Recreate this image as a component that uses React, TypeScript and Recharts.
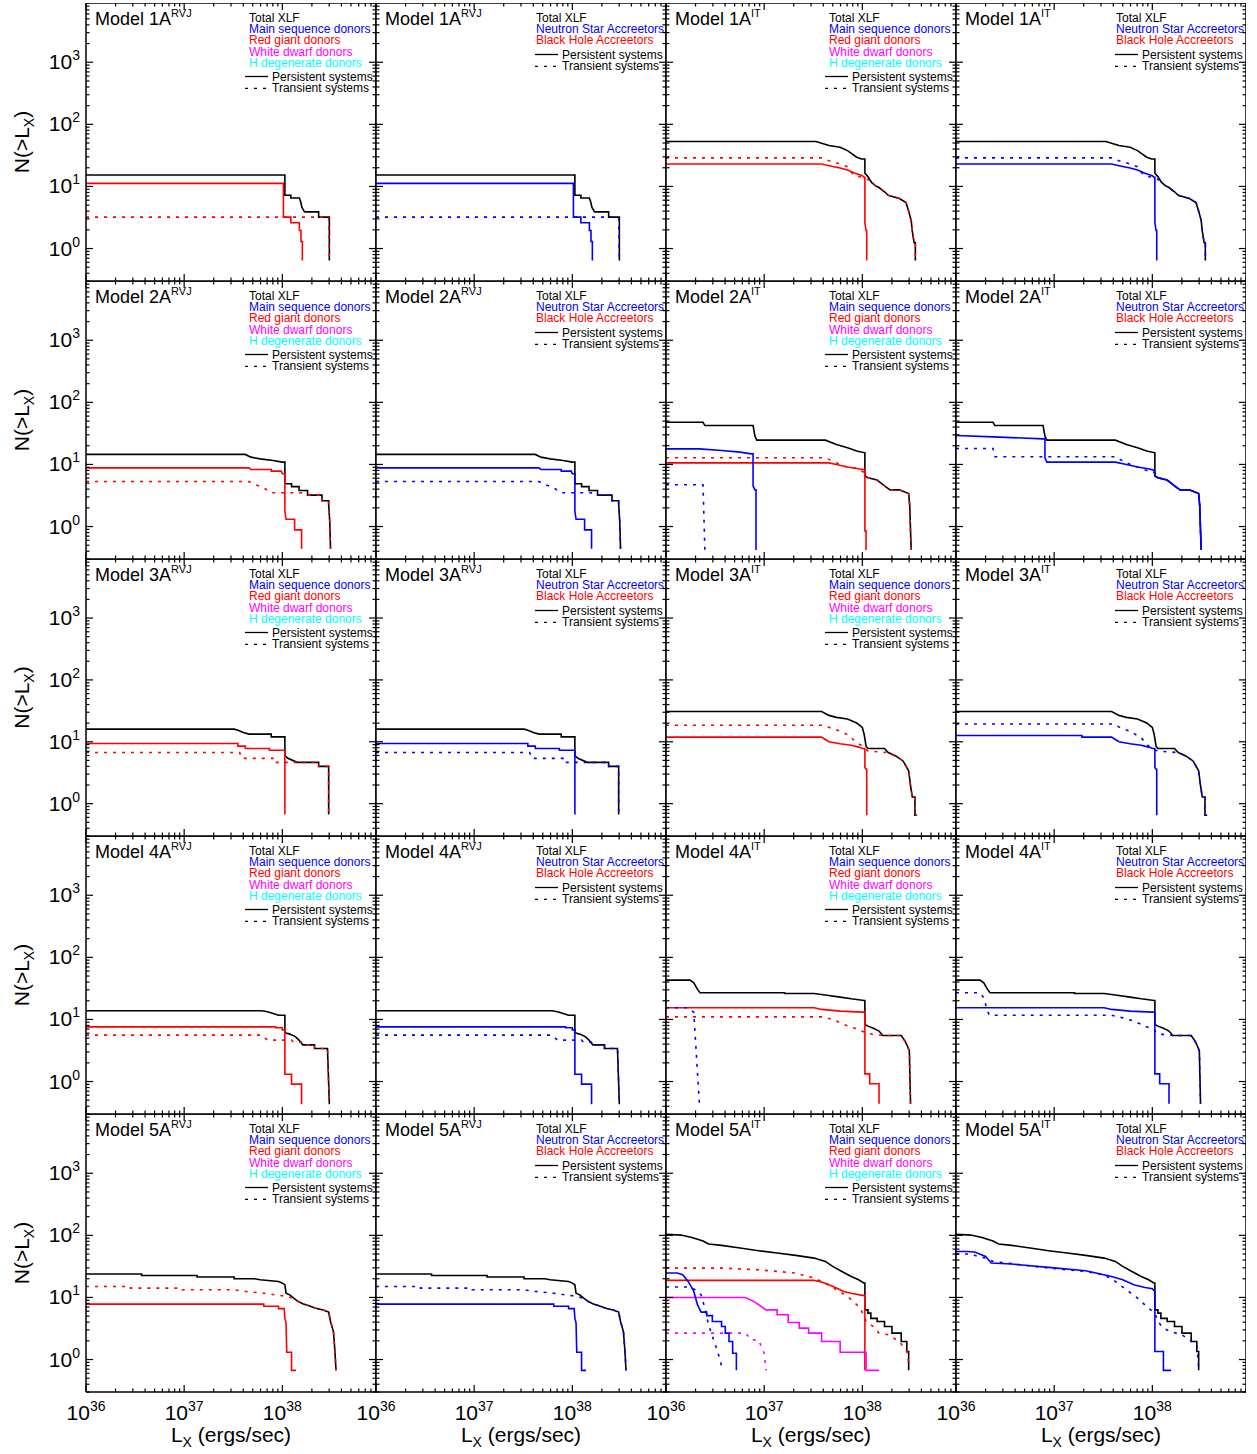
import React from 'react';
import { LineChart, Line, XAxis, YAxis, ReferenceLine } from 'recharts';

const FONT = '"Liberation Sans", Arial, Helvetica, sans-serif';

// ---------- tick labels / legend texts ----------
const models = ['1A', '2A', '3A', '4A', '5A'];
const kinds = ['RVJ', 'RVJ', 'IT', 'IT'];
const donorLegend = ['Total XLF', 'Main sequence donors', 'Red giant donors', 'White dwarf donors', 'H degenerate donors'];
const accretorLegend = ['Total XLF', 'Neutron Star Accreetors', 'Black Hole Accreetors'];
const styleLegend = ['Persistent systems', 'Transient systems'];
const xLabelExps = [36, 37, 38];
const yLabelExps = [0, 1, 2, 3];

// ---------- data: [log10 L_X, N(>L_X)] ----------
// Model 1A RVJ
const tot1r = [[36, 15.3], [38.026, 15.3], [38.026, 7.2], [38.087, 7.2], [38.087, 6.5], [38.174, 6.5], [38.189, 5.5], [38.2, 4.6], [38.226, 3.9], [38.37, 3.9], [38.37, 3.2], [38.479, 3.2], [38.479, 0.64]];
const rg1rP = [[36, 11.2], [38.011, 11.2], [38.011, 3.2], [38.087, 3.2], [38.087, 2.6], [38.174, 2.6], [38.174, 1.95], [38.19, 1.95], [38.19, 1.3], [38.204, 1.3], [38.204, 0.64]];
const rg1rT = [[36, 3.2], [38.472, 3.2], [38.479, 0.64]];
// Model 1A IT
const tot1i = [[36, 53], [37.528, 53], [37.585, 49.8], [37.66, 45.6], [37.774, 42.9], [37.849, 37.8], [37.906, 32.6], [37.943, 29.5], [37.992, 27.7], [38.026, 27.7], [38.026, 16.3], [38.057, 14.4], [38.094, 11.6], [38.132, 10.3], [38.17, 9.6], [38.226, 8.2], [38.264, 7.2], [38.377, 6.4], [38.445, 5.5], [38.472, 4.0], [38.498, 2.8], [38.509, 1.9], [38.528, 1.24], [38.54, 1.24], [38.54, 0.64]];
const rg1iP = [[36, 23], [37.585, 23], [37.66, 21.6], [37.774, 19.8], [37.849, 18.4], [37.925, 16.3], [38.0, 14.9], [38.019, 14], [38.026, 14], [38.026, 2.6], [38.038, 1.95], [38.045, 1.95], [38.045, 0.64]];
const rg1iT = [[36, 28.8], [37.585, 28.8], [37.66, 26], [37.774, 23], [37.849, 20.8], [37.887, 16.9], [37.925, 14.9], [38.0, 14], [38.057, 13], [38.094, 11.6], [38.132, 10.3], [38.17, 9.6], [38.226, 8.2], [38.264, 7.2], [38.377, 6.4], [38.445, 5.5], [38.472, 4.0], [38.498, 2.8], [38.509, 1.9], [38.528, 1.24], [38.54, 1.24], [38.54, 0.64]];
// Model 2A RVJ
const tot2r = [[36, 14.5], [37.623, 14.5], [37.679, 13.1], [37.774, 12.3], [37.906, 11.6], [38.0, 10.9], [38.026, 10.9], [38.026, 4.9], [38.094, 4.9], [38.094, 4.4], [38.17, 4.4], [38.17, 3.8], [38.257, 3.8], [38.257, 3.2], [38.404, 3.2], [38.404, 2.6], [38.472, 2.6], [38.472, 2.3], [38.483, 1.2], [38.491, 0.44]];
const rg2rP = [[36, 8.8], [37.66, 8.8], [37.679, 8.3], [37.887, 8.3], [37.887, 7.8], [37.989, 7.8], [38.0, 7.1], [38.026, 7.1], [38.026, 1.76], [38.038, 1.31], [38.125, 1.31], [38.125, 0.885], [38.196, 0.885], [38.196, 0.44]];
const rg2rT = [[36, 5.3], [37.66, 5.3], [37.698, 4.9], [37.811, 4.2], [37.887, 3.5], [38.189, 3.5], [38.264, 3.2], [38.404, 3.2], [38.404, 2.6], [38.472, 2.6], [38.472, 2.3], [38.483, 1.2], [38.491, 0.44]];
// Model 2A IT
const tot2i = [[36, 47.8], [36.377, 47.8], [36.396, 42.3], [36.887, 42.3], [36.906, 28.5], [36.925, 24.6], [37.623, 24.6], [37.736, 20.9], [37.849, 18.5], [37.943, 16.4], [38.026, 15.4], [38.026, 6.5], [38.057, 6.1], [38.151, 5.6], [38.226, 4.5], [38.283, 3.9], [38.377, 3.9], [38.472, 3.4], [38.483, 2.15], [38.491, 0.85], [38.498, 0.42]];
const ms2iP = [[36, 17.8], [36.34, 17.8], [36.566, 16.8], [36.755, 15.8], [36.868, 14.8], [36.887, 14.8], [36.887, 4.5], [36.906, 3.9], [36.917, 3.9], [36.917, 0.42]];
const ms2iT = [[36, 4.7], [36.377, 4.7], [36.396, 0.42]];
const rg2iP = [[36, 10.6], [37.66, 10.6], [37.736, 10], [37.849, 9.1], [37.943, 8.6], [38.0, 8.3], [38.026, 8.3], [38.026, 0.85], [38.038, 0.85], [38.038, 0.42]];
const rg2iT = [[36, 12.8], [37.623, 12.8], [37.698, 11.3], [37.811, 9.4], [37.943, 8.6], [38.026, 7.35], [38.057, 6.1], [38.151, 5.6], [38.226, 4.5], [38.283, 3.9], [38.377, 3.9], [38.472, 3.4], [38.483, 2.15], [38.491, 0.85], [38.498, 0.42]];
const ns2iP = [[36, 29.2], [36.377, 27.8], [36.887, 25.8], [36.906, 25.8], [36.906, 12.8], [36.925, 10.9], [37.623, 10.9], [37.736, 10], [37.849, 9.1], [37.943, 8.6], [38.019, 8.1], [38.026, 6.5], [38.057, 6.1], [38.151, 5.6], [38.226, 4.5], [38.283, 3.9], [38.377, 3.9], [38.472, 3.4], [38.483, 2.15], [38.491, 0.85], [38.498, 0.42]];
const ns2iT = [[36, 18.1], [36.377, 18.1], [36.396, 13.3], [37.623, 13.3], [37.736, 10.6], [37.849, 9.06], [37.962, 7.8], [38.026, 7.35], [38.057, 6.1], [38.151, 5.6], [38.226, 4.5], [38.283, 3.9], [38.377, 3.9], [38.472, 3.4], [38.483, 2.15], [38.491, 0.85], [38.498, 0.42]];
// Model 3A RVJ
const tot3r = [[36, 16], [37.509, 16], [37.547, 15.4], [37.604, 14.1], [37.66, 13.3], [37.887, 13.3], [37.887, 12], [38.026, 12], [38.026, 6.0], [38.057, 5.4], [38.151, 4.65], [38.37, 4.65], [38.37, 4.0], [38.472, 4.0], [38.472, 0.67]];
const rg3rP = [[36, 9.4], [37.547, 9.4], [37.547, 8.5], [37.623, 8.5], [37.623, 7.8], [37.868, 7.8], [37.868, 7.3], [38.026, 7.3], [38.026, 0.67]];
const rg3rT = [[36, 6.7], [37.566, 6.7], [37.585, 5.4], [37.925, 5.4], [37.925, 4.65], [38.37, 4.65], [38.37, 4.0], [38.472, 4.0], [38.472, 0.67]];
// Model 3A IT
const tot3i = [[36, 30.8], [37.585, 30.8], [37.66, 26.7], [37.736, 24.8], [37.849, 23.3], [37.943, 20.1], [38.0, 17.1], [38.019, 13.1], [38.038, 8.5], [38.057, 7.8], [38.226, 7.8], [38.264, 6.7], [38.34, 5.9], [38.415, 4.9], [38.472, 3.4], [38.491, 1.96], [38.509, 1.28], [38.536, 1.28], [38.536, 0.65], [38.558, 0.65]];
const rg3iP = [[36, 11.9], [37.585, 11.9], [37.623, 10.9], [37.66, 10], [37.774, 9.3], [37.887, 8.8], [37.962, 8.2], [38.0, 7.8], [38.026, 7.8], [38.026, 3.85], [38.038, 3.6], [38.045, 3.6], [38.045, 0.65]];
const rg3iT = [[36, 18.5], [37.604, 18.5], [37.679, 16.7], [37.774, 14.8], [37.849, 13.1], [37.925, 10.3], [38.0, 8.5], [38.057, 7.1], [38.151, 6.9], [38.264, 6.7], [38.34, 5.9], [38.415, 4.9], [38.472, 3.4], [38.491, 1.96], [38.509, 1.28], [38.536, 1.28], [38.536, 0.65], [38.558, 0.65]];
const ns3iP = [[36, 12.6], [37.283, 12.6], [37.283, 11.9], [37.585, 11.9], [37.623, 10.9], [37.66, 10], [37.774, 9.3], [37.887, 8.8], [37.962, 8.2], [38.0, 7.8], [38.026, 7.8], [38.026, 3.85], [38.038, 3.6], [38.045, 3.6], [38.045, 0.65]];
const ns3iT = [[36, 19.4], [37.604, 19.4], [37.679, 16.7], [37.774, 14.8], [37.887, 11.6], [37.943, 9.1], [38.0, 7.55], [38.057, 7.1], [38.151, 6.9], [38.264, 6.7], [38.34, 5.9], [38.415, 4.9], [38.472, 3.4], [38.491, 1.96], [38.509, 1.28], [38.536, 1.28], [38.536, 0.65], [38.558, 0.65]];
// Model 4A RVJ
const tot4r = [[36, 13.8], [37.792, 13.8], [37.849, 13.3], [37.906, 12.5], [37.962, 11.7], [38.026, 11.7], [38.026, 6.1], [38.075, 5.8], [38.132, 5.3], [38.17, 4.65], [38.208, 3.9], [38.328, 3.9], [38.328, 3.4], [38.46, 3.4], [38.479, 0.43]];
const rg4rP = [[36, 7.6], [37.932, 7.6], [37.932, 7.35], [38.0, 7.35], [38.0, 6.8], [38.026, 6.8], [38.026, 1.31], [38.094, 1.31], [38.094, 0.91], [38.196, 0.91], [38.196, 0.43]];
const rg4rT = [[36, 5.6], [37.792, 5.6], [37.849, 4.65], [38.094, 4.65], [38.113, 4.3], [38.196, 4.3], [38.208, 3.9], [38.328, 3.9], [38.328, 3.4], [38.46, 3.4], [38.479, 0.43]];
// Model 4A IT
const tot4i = [[36, 43], [36.245, 43], [36.283, 39], [36.321, 30.5], [36.347, 26.9], [37.208, 26.9], [37.208, 26.2], [37.509, 26.2], [37.623, 24.7], [37.774, 22.9], [37.887, 21.5], [38.019, 20.2], [38.026, 20.2], [38.026, 8.3], [38.057, 7.8], [38.113, 7.2], [38.17, 6.5], [38.208, 5.5], [38.396, 5.5], [38.434, 4.5], [38.46, 3.7], [38.479, 3.1], [38.491, 0.44]];
const rg4iP = [[36, 15.4], [37.509, 15.4], [37.585, 14.5], [37.774, 13.6], [38.0, 13.1], [38.026, 13.1], [38.026, 1.33], [38.075, 1.33], [38.075, 0.92], [38.17, 0.92], [38.17, 0.44]];
const rg4iT = [[36, 11], [37.585, 11], [37.698, 10], [37.811, 8.3], [37.925, 7.2], [38.038, 6.1], [38.113, 5.7], [38.226, 5.5], [38.396, 5.5], [38.434, 4.5], [38.46, 3.7], [38.479, 3.1], [38.491, 0.44]];
const ms4iT = [[36, 15.4], [36.226, 15.4], [36.283, 13], [36.34, 0.44]];
const ns4iP = [[36, 15.4], [37.509, 15.4], [37.585, 14.5], [37.774, 13.6], [38.0, 13.1], [38.026, 13.1], [38.026, 1.33], [38.075, 1.33], [38.075, 0.92], [38.17, 0.92], [38.17, 0.44]];
const ns4iT = [[36, 26.9], [36.245, 26.9], [36.283, 22.3], [36.321, 13.6], [36.34, 11.7], [37.585, 11.7], [37.698, 10.6], [37.811, 9.4], [37.925, 7.8], [38.019, 6.9], [38.038, 6.1], [38.113, 5.7], [38.226, 5.5], [38.396, 5.5], [38.434, 4.5], [38.46, 3.7], [38.479, 3.1], [38.491, 0.44]];
// Model 5A RVJ
const tot5r = [[36, 23.8], [36.566, 23.8], [36.566, 22.6], [37.132, 22.6], [37.132, 21.3], [37.509, 21.3], [37.509, 20], [37.717, 20], [37.774, 19.3], [37.962, 18.1], [38.0, 17], [38.026, 16], [38.038, 11.7], [38.075, 11], [38.113, 9.8], [38.151, 8.8], [38.208, 7.9], [38.264, 7.4], [38.34, 6.7], [38.415, 6.3], [38.472, 5.8], [38.491, 4.1], [38.521, 2.8], [38.536, 1.35], [38.547, 0.67]];
const rg5rP = [[36, 7.8], [37.811, 7.8], [37.811, 7.2], [37.962, 7.2], [37.962, 6.6], [38.019, 6.6], [38.026, 4.6], [38.038, 3.9], [38.045, 1.31], [38.094, 1.31], [38.094, 0.67], [38.14, 0.67]];
const rg5rT = [[36, 15], [36.453, 15], [36.453, 14.1], [36.981, 14.1], [36.981, 13.3], [37.509, 13.3], [37.623, 12.5], [37.811, 11.7], [37.962, 10.8], [38.057, 10.4], [38.113, 9.6], [38.151, 8.8], [38.208, 7.9], [38.264, 7.4], [38.34, 6.7], [38.415, 6.3], [38.472, 5.8], [38.491, 4.1], [38.521, 2.8], [38.536, 1.35], [38.547, 0.67]];
// Model 5A IT
const tot5i = [[36, 104], [36.151, 101], [36.264, 92], [36.377, 81], [36.434, 72.5], [36.566, 69], [36.755, 62.5], [36.943, 56.6], [37.132, 51.9], [37.321, 47.6], [37.509, 43], [37.623, 38], [37.698, 31.6], [37.792, 26.2], [37.887, 21.8], [37.962, 19.3], [38.019, 17], [38.026, 17], [38.026, 6.3], [38.057, 6.3], [38.057, 5.6], [38.087, 5.6], [38.087, 4.6], [38.151, 4.6], [38.151, 4.1], [38.226, 4.1], [38.226, 3.4], [38.302, 3.4], [38.302, 2.66], [38.396, 2.66], [38.396, 1.95], [38.453, 1.95], [38.453, 1.35], [38.472, 1.35], [38.472, 0.67]];
const rg5iP = [[36, 18.8], [37.509, 18.8], [37.585, 17.7], [37.66, 16], [37.736, 14.2], [37.811, 12.5], [37.887, 11.7], [38.0, 10.8], [38.026, 10.8], [38.026, 0.67]];
const rg5iT = [[36, 29.7], [36.566, 29.7], [36.943, 27.9], [37.321, 24.7], [37.509, 20.5], [37.623, 17], [37.736, 13.3], [37.849, 10.4], [37.925, 8.1], [37.981, 6.7], [38.038, 4.1], [38.113, 3.4], [38.17, 2.66], [38.264, 2.5], [38.377, 1.95], [38.453, 1.35], [38.472, 0.9]];
const ms5iP = [[36, 24.7], [36.113, 24.7], [36.17, 23.2], [36.226, 18.1], [36.283, 12.5], [36.321, 7.6], [36.358, 5.8], [36.415, 5.8], [36.415, 5.1], [36.472, 5.1], [36.472, 4.1], [36.566, 4.1], [36.566, 3.4], [36.604, 3.4], [36.604, 2.66], [36.642, 2.66], [36.642, 1.95], [36.679, 1.95], [36.679, 1.26], [36.717, 1.26], [36.717, 0.67]];
const ms5iT = [[36, 14.7], [36.226, 14.7], [36.302, 13.3], [36.358, 11], [36.396, 6.7], [36.434, 3.6], [36.491, 1.95], [36.547, 1.05], [36.574, 0.67]];
const wd5iP = [[36, 10], [36.811, 10], [36.906, 8.4], [37.019, 6.3], [37.132, 6.3], [37.132, 5.25], [37.245, 5.25], [37.245, 3.95], [37.358, 3.95], [37.358, 3.2], [37.453, 3.2], [37.453, 2.66], [37.585, 2.66], [37.585, 1.95], [37.774, 1.95], [37.774, 1.31], [38.038, 1.31], [38.038, 0.67], [38.17, 0.67]];
const wd5iT = [[36, 2.66], [36.811, 2.66], [36.868, 2.07], [36.943, 2.07], [37.0, 1.26], [37.019, 0.67]];
const ns5iP = [[36, 55], [36.113, 55], [36.189, 53.8], [36.302, 45.8], [36.358, 35.8], [36.566, 34.5], [36.943, 30.5], [37.321, 26.9], [37.585, 21.8], [37.698, 19.3], [37.811, 16], [37.925, 14.5], [38.0, 13.8], [38.026, 12.5], [38.026, 1.35], [38.113, 1.35], [38.113, 0.67], [38.19, 0.67]];
const ns5iT = [[36, 50], [36.151, 50], [36.226, 45.8], [36.302, 43], [36.377, 38], [36.943, 29.7], [37.321, 26.2], [37.509, 23.2], [37.623, 18.1], [37.736, 13.3], [37.849, 9.75], [37.962, 6.7], [38.026, 5.6], [38.057, 4.1], [38.113, 3.2], [38.189, 2.8], [38.302, 2.5], [38.377, 2.07], [38.453, 1.73], [38.472, 0.73]];

// ---------- styling & layout ----------
const BLACK = '#000000', BLUE = '#0000ff', RED = '#ff0000', MAG = '#ff00ff', CYAN = '#00ffff';
const DASH = '3 6';
const rowTops = [3, 281, 559, 836, 1114, 1392];
const PLOT_W = 290;
const LEFT0 = 86;
const X_DOMAIN = [1e36, 9e38];
const Y_DOMAIN = [0.3, 9000];

const isMajor = (v) => { const e = Math.log10(v); return Math.abs(e - Math.round(e)) < 1e-6; };
const xTicks = [];
for (let e = 36; e <= 38; e++) for (let m = 1; m <= 9; m++) xTicks.push(m * Math.pow(10, e));
const yTicks = [];
for (let e = -1; e <= 3; e++) for (let m = 1; m <= 9; m++) { const v = m * Math.pow(10, e); if (v >= 0.2999 && v <= 9000.01) yTicks.push(v); }

const c = (pts, color, dashed = false) => ({ pts, color, dashed });
const panels = [
  [
    [c(tot1r, BLACK), c(rg1rP, RED), c(rg1rT, RED, true)],
    [c(tot1r, BLACK), c(rg1rP, BLUE), c(rg1rT, BLUE, true)],
    [c(tot1i, BLACK), c(rg1iP, RED), c(rg1iT, RED, true)],
    [c(tot1i, BLACK), c(rg1iP, BLUE), c(rg1iT, BLUE, true)],
  ],
  [
    [c(tot2r, BLACK), c(rg2rP, RED), c(rg2rT, RED, true)],
    [c(tot2r, BLACK), c(rg2rP, BLUE), c(rg2rT, BLUE, true)],
    [c(tot2i, BLACK), c(rg2iP, RED), c(rg2iT, RED, true), c(ms2iP, BLUE), c(ms2iT, BLUE, true)],
    [c(tot2i, BLACK), c(ns2iP, BLUE), c(ns2iT, BLUE, true)],
  ],
  [
    [c(tot3r, BLACK), c(rg3rP, RED), c(rg3rT, RED, true)],
    [c(tot3r, BLACK), c(rg3rP, BLUE), c(rg3rT, BLUE, true)],
    [c(tot3i, BLACK), c(rg3iP, RED), c(rg3iT, RED, true)],
    [c(tot3i, BLACK), c(ns3iP, BLUE), c(ns3iT, BLUE, true)],
  ],
  [
    [c(tot4r, BLACK), c(rg4rP, RED), c(rg4rT, RED, true)],
    [c(tot4r, BLACK), c(rg4rP, BLUE), c(rg4rT, BLUE, true)],
    [c(tot4i, BLACK), c(rg4iP, RED), c(rg4iT, RED, true), c(ms4iT, BLUE, true)],
    [c(tot4i, BLACK), c(ns4iP, BLUE), c(ns4iT, BLUE, true)],
  ],
  [
    [c(tot5r, BLACK), c(rg5rP, RED), c(rg5rT, RED, true)],
    [c(tot5r, BLACK), c(rg5rP, BLUE), c(rg5rT, BLUE, true)],
    [c(tot5i, BLACK), c(rg5iT, RED, true), c(rg5iP, RED), c(wd5iT, MAG, true), c(wd5iP, MAG), c(ms5iT, BLUE, true), c(ms5iP, BLUE)],
    [c(tot5i, BLACK), c(ns5iT, BLUE, true), c(ns5iP, BLUE)],
  ],
];

function XTick(props) {
  const { x, y, payload, plotH, showLabel } = props;
  const v = payload.value;
  const major = isMajor(v);
  const len = major ? 7 : 3.5;
  const e = Math.round(Math.log10(v));
  return (
    <g>
      <line x1={x} x2={x} y1={y} y2={y - len} stroke="#000" strokeWidth={1.2} />
      <line x1={x} x2={x} y1={y - plotH} y2={y - plotH + len} stroke="#000" strokeWidth={1.2} />
      {showLabel && major && xLabelExps.includes(e) && (
        <text x={x} y={y + 28} textAnchor="middle" fontFamily={FONT} fill="#000">
          <tspan fontSize={21}>10</tspan>
          <tspan fontSize={14} dy={-9}>{e}</tspan>
        </text>
      )}
    </g>
  );
}

function YTick(props) {
  const { x, y, payload, showLabel } = props;
  const v = payload.value;
  const major = isMajor(v);
  const len = major ? 7 : 3.5;
  const e = Math.round(Math.log10(v));
  return (
    <g>
      <line x1={x} x2={x + len} y1={y} y2={y} stroke="#000" strokeWidth={1.2} />
      <line x1={x + PLOT_W} x2={x + PLOT_W - len} y1={y} y2={y} stroke="#000" strokeWidth={1.2} />
      {showLabel && major && yLabelExps.includes(e) && (
        <text x={x - 6} y={y + 7} textAnchor="end" fontFamily={FONT} fill="#000">
          <tspan fontSize={21}>10</tspan>
          <tspan fontSize={14} dy={-9}>{e}</tspan>
        </text>
      )}
    </g>
  );
}

function Panel({ r, col }) {
  const top = rowTops[r];
  const plotH = rowTops[r + 1] - top;
  const curves = panels[r][col];
  return (
    <div style={{ position: 'absolute', left: col * PLOT_W, top }}>
      <LineChart width={LEFT0 + PLOT_W} height={plotH + 62} margin={{ top: 0, right: 0, bottom: 0, left: 0 }}>
        <XAxis
          dataKey="L" type="number" scale="log" domain={X_DOMAIN} allowDataOverflow
          ticks={xTicks} interval={0} tickSize={0} tickMargin={0} tickLine={false} height={62}
          axisLine={{ stroke: '#000', strokeWidth: 1.5 }}
          tick={(tp) => <XTick {...tp} plotH={plotH} showLabel={r === 4} />}
        />
        <YAxis
          dataKey="N" type="number" scale="log" domain={Y_DOMAIN} allowDataOverflow
          ticks={yTicks} interval={0} tickSize={0} tickMargin={0} tickLine={false} width={LEFT0}
          axisLine={{ stroke: '#000', strokeWidth: 1.5 }}
          tick={(tp) => <YTick {...tp} showLabel={col === 0} />}
        />
        <ReferenceLine y={9000} stroke="#000" strokeWidth={1.5} ifOverflow="visible" />
        <ReferenceLine x={9e38} stroke="#000" strokeWidth={1.5} ifOverflow="visible" />
        {curves.map((cv, i) => (
          <Line
            key={i}
            data={cv.pts.map(([lx, n]) => ({ L: Math.pow(10, lx), N: n }))}
            dataKey="N" type="linear" stroke={cv.color} strokeWidth={1.6}
            strokeDasharray={cv.dashed ? DASH : undefined}
            dot={false} activeDot={false} isAnimationActive={false}
          />
        ))}
      </LineChart>
    </div>
  );
}

function Overlay() {
  const els = [];
  for (let r = 0; r < 5; r++) {
    const T = rowTops[r];
    const plotH = rowTops[r + 1] - T;
    for (let col = 0; col < 4; col++) {
      const L = LEFT0 + col * PLOT_W;
      const ns = col === 1 || col === 3;
      els.push(
        <text key={`t${r}${col}`} x={L + 9} y={T + 22} fontFamily={FONT} fill="#000">
          <tspan fontSize={18}>{`Model ${models[r]}`}</tspan>
          <tspan fontSize={11} dy={-8.5}>{kinds[col]}</tspan>
        </text>
      );
      const names = ns ? accretorLegend : donorLegend;
      const colors = ns ? [BLACK, BLUE, RED] : [BLACK, BLUE, RED, MAG, CYAN];
      const tx = L + (ns ? 160 : 163);
      names.forEach((nm, i) => {
        els.push(
          <text key={`l${r}${col}${i}`} x={tx} y={T + 19 + i * 11.2} fontSize={12} fontFamily={FONT} fill={colors[i]}>{nm}</text>
        );
      });
      const b1 = ns ? T + 55.5 : T + 77.5;
      styleLegend.forEach((nm, i) => {
        const by = b1 + i * 11.8;
        els.push(
          <line key={`s${r}${col}${i}`} x1={L + 159} x2={L + 182} y1={by - 4} y2={by - 4} stroke="#000" strokeWidth={1.3} strokeDasharray={i === 1 ? '3 6' : undefined} />
        );
        els.push(
          <text key={`n${r}${col}${i}`} x={L + 186} y={by} fontSize={12} fontFamily={FONT} fill="#000">{nm}</text>
        );
      });
    }
    const cy = T + plotH / 2;
    els.push(
      <text key={`y${r}`} transform={`translate(29, ${cy}) rotate(-90)`} textAnchor="middle" fontFamily={FONT} fontSize={21} fill="#000">
        N(&gt;L<tspan fontSize={14} dy={5}>X</tspan><tspan dy={-5}>)</tspan>
      </text>
    );
  }
  for (let col = 0; col < 4; col++) {
    const cx = LEFT0 + col * PLOT_W + 145;
    els.push(
      <text key={`x${col}`} x={cx} y={1442} textAnchor="middle" fontFamily={FONT} fontSize={21} fill="#000">
        L<tspan fontSize={14} dy={5}>X</tspan><tspan dy={-5}> (ergs/sec)</tspan>
      </text>
    );
  }
  return (
    <svg width={1257} height={1454} style={{ position: 'absolute', left: 0, top: 0, pointerEvents: 'none' }}>
      {els}
    </svg>
  );
}

export default function App() {
  const cells = [];
  for (let r = 0; r < 5; r++) for (let col = 0; col < 4; col++) cells.push(<Panel key={`${r}-${col}`} r={r} col={col} />);
  return (
    <div style={{ position: 'absolute', left: 0, top: 0, width: 1257, height: 1454, background: '#fff', fontFamily: FONT }}>
      {cells}
      <Overlay />
    </div>
  );
}
